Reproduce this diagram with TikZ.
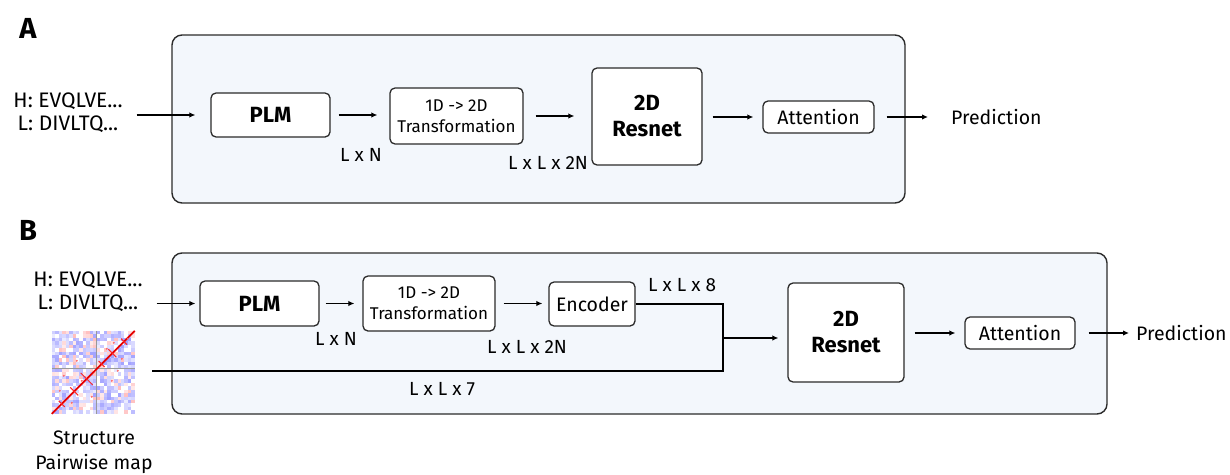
\documentclass[tikz,border=0pt]{standalone}
\usepackage{fontspec}
\setmainfont{Fira Sans}
\usetikzlibrary{arrows.meta}
\definecolor{panelbg}{HTML}{F3F7FC}
\definecolor{edge}{HTML}{2B2B2B}
\tikzset{
  panel/.style={draw=edge, line width=1.4pt, rounded corners=10pt, fill=panelbg, inner sep=0pt},
  blk/.style={draw=edge, line width=1.3pt, rounded corners=5pt, fill=white, inner sep=0pt, align=center},
  arr/.style={-{Latex[length=6pt,width=5.5pt]}, line width=1.4pt, draw=black},
  wire/.style={line width=1.4pt, draw=black},
  txt/.style={inner sep=0pt, font=\fontsize{19.5}{25}\selectfont, align=center},
  seq/.style={inner sep=0pt, font=\fontsize{21}{23}\selectfont, align=center},
  dim/.style={inner sep=0pt, font=\fontsize{19}{22}\selectfont},
  bold/.style={font=\fontsize{22}{26}\selectfont\bfseries},
  small/.style={font=\fontsize{17}{21}\selectfont},
  tag/.style={inner sep=0pt, font=\fontsize{29}{32}\selectfont\bfseries},
}
\begin{document}
\begin{tikzpicture}[x=1pt, y=-1pt]
\useasboundingbox (0,0) rectangle (1230,474);

% ---------------- Panel A ----------------
\node[tag] (labA) at (28,28) {A};
\node[panel, minimum width=733pt, minimum height=168pt] (pA) at (538.5,119) {};
\node[seq] (inA) at (68,113) {H: EVQLVE...\\L: DIVLTQ...};
\node[blk, bold, minimum width=119pt, minimum height=44pt] (plmA) at (270.5,115) {PLM};
\node[blk, small, minimum width=133pt, minimum height=56pt] (trA) at (456.5,116) {1D -> 2D\\Transformation};
\node[blk, bold, minimum width=110pt, minimum height=97pt] (resA) at (647,116.5) {2D\\Resnet};
\node[blk, txt, minimum width=111pt, minimum height=32pt] (attA) at (818.5,117) {Attention};
\node[txt, anchor=west] (predA) at (951,117) {Prediction};
\node[dim] (dA1) at (361,155) {L x N};
\node[dim] (dA2) at (548,163) {L x L x 2N};

\draw[arr, shorten <=14pt, shorten >=15pt] (inA.east |- plmA.west) -- (plmA.west);
\draw[arr, shorten <=8pt, shorten >=12pt] (plmA.east) -- (plmA.east -| trA.west);
\draw[arr, shorten <=12pt, shorten >=17pt] (trA.east) -- (trA.east -| resA.west);
\draw[arr, shorten <=10pt, shorten >=9pt] (resA.east |- attA.west) -- (attA.west);
\draw[arr, shorten <=12pt, shorten >=23pt] (attA.east) -- (predA.west);

% ---------------- Panel B ----------------
\node[tag] (labB) at (28,230) {B};
\node[panel, minimum width=935pt, minimum height=161pt] (pB) at (639.5,333.5) {};
\node[seq] (inB) at (88,292) {H: EVQLVE...\\L: DIVLTQ...};
\node[blk, bold, minimum width=119pt, minimum height=45pt] (plmB) at (259.5,303.5) {PLM};
\node[blk, small, minimum width=132pt, minimum height=55pt] (trB) at (429,303.5) {1D -> 2D\\Transformation};
\node[blk, txt, minimum width=86pt, minimum height=44pt] (encB) at (592,304) {Encoder};
\node[blk, bold, minimum width=116pt, minimum height=99pt] (resB) at (846,332.5) {2D\\Resnet};
\node[blk, txt, minimum width=110pt, minimum height=32pt] (attB) at (1020,333) {Attention};
\node[txt, anchor=west] (predB) at (1136,333) {Prediction};
\node[dim] (dB1) at (336,339) {L x N};
\node[dim] (dB2) at (527,347) {L x L x 2N};
\node[dim] (dB3) at (682,285) {L x L x 8};
\node[dim] (dB4) at (442,389) {L x L x 7};

% structure pairwise map
\node[inner sep=0pt, minimum size=83pt] (map) at (93.5,372.5) {};
\begin{scope}[shift={(map.north west)}]
  \pgfmathsetseed{4242}
  \foreach \i in {0,...,23}{
    \foreach \j in {0,...,23}{
      \pgfmathsetmacro\c{int(rnd*5)}
      \pgfmathsetmacro\s{int(12+rnd*26)}
      \ifcase\c \colorlet{cellc}{blue!\s}\or \colorlet{cellc}{blue!\s!white!70}\or \colorlet{cellc}{blue!\s}\or \colorlet{cellc}{white}\or \colorlet{cellc}{red!\s!white!70}\fi
      \fill[cellc] (\i*3.4583,\j*3.4583) rectangle ++(3.4583,3.4583);
    }
  }
  \draw[gray!80, line width=0.9pt] (0,38) -- (83,38);
  \draw[gray!80, line width=0.9pt] (45,0) -- (45,83);
  \draw[red!90!black, line width=1.8pt] (0,83) -- (83,0);
  \foreach \t/\r in {0.12/3, 0.27/4, 0.42/6, 0.6/3, 0.73/4, 0.87/3}{
    \draw[red!85, line width=1pt] ({83*\t-\r},{83-83*\t-\r}) -- ({83*\t+\r},{83-83*\t+\r});
  }
  \foreach \x/\y in {8/60, 20/72, 30/50, 62/12, 70/28, 55/18, 12/45, 76/8, 40/66, 66/40, 60/50, 25/30}{
    \fill[red!60] (\x,\y) circle (1.1pt);
  }
\end{scope}
\node[txt] (mapLab) at (94,452) {Structure\\Pairwise map};

\coordinate (jt) at (723,304);
\coordinate (jb) at (723,371);
\coordinate (jm) at (723,338);

\draw[arr, shorten <=14pt, shorten >=4pt] (inB.east |- plmB.west) -- (plmB.west);
\draw[arr, shorten <=6pt, shorten >=8pt] (plmB.east) -- (plmB.east -| trB.west);
\draw[arr, shorten <=8pt, shorten >=6pt] (trB.east) -- (trB.east -| encB.west);
\draw[wire, shorten >=17pt] (encB.east) -- (jt) -- (jb) -- (map.east |- jb);
\draw[arr, shorten >=9pt] (jm) -- (jm -| resB.west);
\draw[arr, shorten <=10pt, shorten >=9pt] (resB.east |- attB.west) -- (attB.west);
\draw[arr, shorten <=13pt, shorten >=7pt] (attB.east) -- (predB.west);
\end{tikzpicture}
\end{document}
